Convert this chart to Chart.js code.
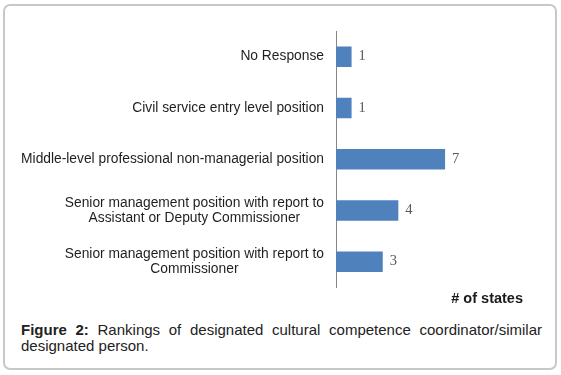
<!DOCTYPE html>
<html>
<head>
<meta charset="utf-8">
<script src="https://cdn.jsdelivr.net/npm/chart.js@4.4.1/dist/chart.umd.min.js"></script>
<style>
  html, body { margin: 0; padding: 0; background: #fff; }
  body { width: 561px; height: 375px; position: relative; overflow: hidden; font-family: "Liberation Sans", Arial, sans-serif; }
  .frame {
    position: absolute; left: 3px; top: 4px; width: 554px; height: 366px;
    border: 2px solid #c8c8c8; border-radius: 7px; box-sizing: border-box;
  }
  #chart-wrap { position: absolute; left: 0; top: 0; width: 561px; height: 308px; }
  .caption {
    position: absolute; left: 21px; top: 322px; width: 521px;
    font-size: 15px; line-height: 16px; color: #222; text-align: justify;
  }
</style>
</head>
<body>
<div class="frame"></div>
<div id="chart-wrap"><canvas id="states-chart"></canvas></div>
<div class="caption"><b>Figure 2:</b> Rankings of designated cultural competence coordinator/similar designated person.</div>
<script>
const categories = [
  ["No Response"],
  ["Civil service entry level position"],
  ["Middle-level professional non-managerial position"],
  ["Senior management position with report to", "Assistant or Deputy Commissioner"],
  ["Senior management position with report to", "Commissioner"],
];
const stateCounts = [1, 1, 7, 4, 3];
const axisTitle = "# of states";

const labelFont = '13.8px "Liberation Sans", Arial, sans-serif';
const valueFont = '14.5px "Liberation Serif", "Times New Roman", serif';

// category labels: block right-aligned to the axis, lines centred inside each label
const categoryLabels = {
  id: "categoryLabels",
  afterDraw(chart) {
    const { ctx } = chart;
    const yScale = chart.scales.y;
    const lineGap = 15;
    ctx.save();
    ctx.font = labelFont;
    ctx.fillStyle = "#1f1f1f";
    ctx.textAlign = "center";
    ctx.textBaseline = "middle";
    categories.forEach((lines, index) => {
      const widest = Math.max(...lines.map((line) => ctx.measureText(line).width));
      const centerX = yScale.right - 12 - widest / 2;
      const startY = yScale.getPixelForValue(index) - ((lines.length - 1) * lineGap) / 2;
      lines.forEach((line, lineIndex) => ctx.fillText(line, centerX, startY + lineIndex * lineGap));
    });
    ctx.restore();
  },
};

const valueLabels = {
  id: "valueLabels",
  afterDatasetsDraw(chart) {
    const { ctx } = chart;
    const meta = chart.getDatasetMeta(0);
    ctx.save();
    ctx.font = valueFont;
    ctx.fillStyle = "#595959";
    ctx.textAlign = "left";
    ctx.textBaseline = "middle";
    meta.data.forEach((bar, index) => {
      ctx.fillText(String(stateCounts[index]), bar.x + 7, bar.y);
    });
    ctx.restore();
  },
};

new Chart(document.querySelector("#states-chart"), {
  type: "bar",
  data: {
    labels: categories,
    datasets: [
      {
        data: stateCounts,
        backgroundColor: "#4f81bd",
        borderWidth: 0,
        barPercentage: 0.4,
        categoryPercentage: 1,
      },
    ],
  },
  options: {
    indexAxis: "y",
    responsive: true,
    maintainAspectRatio: false,
    animation: false,
    layout: { padding: { top: 31, right: 38, bottom: 0, left: 0 } },
    plugins: {
      legend: { display: false },
      tooltip: { enabled: false },
    },
    scales: {
      x: {
        min: 0,
        max: 12,
        grid: { display: false, drawTicks: false },
        border: { display: false },
        ticks: { display: false },
        title: {
          display: true,
          text: axisTitle,
          align: "end",
          color: "#1a1a1a",
          font: { family: '"Liberation Sans", Arial, sans-serif', size: 14.5, weight: "bold" },
          padding: { top: 3.3, bottom: 0 },
        },
      },
      y: {
        grid: { display: false, drawTicks: false },
        border: { display: true, color: "#868686", width: 1 },
        ticks: { display: false },
        afterFit(scale) {
          scale.width = 336;
        },
      },
    },
  },
  plugins: [categoryLabels, valueLabels],
});
</script>
</body>
</html>
